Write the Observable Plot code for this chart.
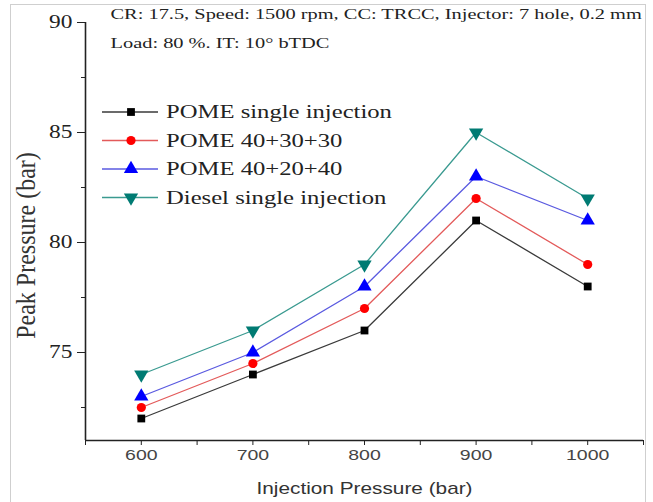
<!DOCTYPE html>
<html>
<head>
<meta charset="utf-8">
<script src="https://cdn.jsdelivr.net/npm/d3@7"></script>
<script src="https://cdn.jsdelivr.net/npm/@observablehq/plot@0.6"></script>
<style>
  html, body { margin: 0; padding: 0; background: #fff; }
  #wrap { position: relative; width: 653px; height: 502px; overflow: hidden; background: #fff; }
  #frame { position: absolute; left: 10px; top: 4px; width: 636px; height: 500px; border: 1.5px solid #cfcfcf; box-sizing: border-box; }
  #wrap svg { position: absolute; left: 0; top: 0; }
</style>
</head>
<body>
<div id="wrap"><div id="frame"></div></div>
<script>
// ---- data ----
const injectionPressure = [600, 700, 800, 900, 1000];
const pomeSingle = [72, 74, 76, 81, 78];
const pome403030 = [72.5, 74.5, 77, 82, 79];
const pome402040 = [73, 75, 78, 83, 81];
const dieselSingle = [74, 76, 79, 85, 82];
const seriesNames = ["POME single injection", "POME 40+30+30", "POME 40+20+40", "Diesel single injection"];
const seriesValues = [pomeSingle, pome403030, pome402040, dieselSingle];
const xTicks = [600, 700, 800, 900, 1000];
const xMinorTicks = [550, 650, 750, 850, 950, 1050];
const yTicks = [75, 80, 85, 90];
const yMinorTicks = [72.5, 77.5, 82.5, 87.5];
const xDomain = [550, 1050];
const yDomain = [71, 90];
const noteLines = ["CR: 17.5, Speed: 1500 rpm, CC: TRCC, Injector: 7 hole, 0.2 mm", "Load: 80 %. IT: 10\u00B0 bTDC"];
const xTitle = "Injection Pressure (bar)";
const yTitle = "Peak Pressure (bar)";

// ---- styles ----
const markerColors = ["#000000", "#ff0000", "#0000ff", "#007b73"];
const lineColors = ["#3a3a3a", "#e35a5a", "#5a5ae0", "#3a9a90"];
const triangleDown = {
  draw(context, size) {
    const y = -Math.sqrt(size / (Math.sqrt(3) * 3));
    context.moveTo(0, -y * 2);
    context.lineTo(-Math.sqrt(3) * y, y);
    context.lineTo(Math.sqrt(3) * y, y);
    context.closePath();
  }
};
const symbols = ["square", "circle", "triangle", triangleDown];
const radii = [4.4, 4.6, 5.3, 5.3];
const SERIF = "'Liberation Serif', 'Times New Roman', serif";
const SANS = "'Liberation Sans', Arial, sans-serif";
const STRETCH = 1.3;

const table = seriesNames.flatMap((name, s) =>
  injectionPressure.map((x, i) => ({series: name, s, x, y: seriesValues[s][i]})));

const marks = [
  Plot.axisX({ticks: xMinorTicks, tickSize: 5, tickFormat: () => "", label: null, stroke: "#222"}),
  Plot.axisX({ticks: xTicks, tickSize: 5, tickPadding: 4, tickFormat: d => String(d), label: null,
    stroke: "#222", fill: "#454545", fontSize: 15, fontFamily: SANS}),
  Plot.axisY({ticks: yMinorTicks, tickSize: 4, tickFormat: () => "", label: null, stroke: "#222"}),
  Plot.axisY({ticks: yTicks, tickSize: 8, tickPadding: 5, tickFormat: d => String(d), label: null,
    stroke: "#222", fill: "#222", fontSize: 18, fontFamily: SERIF}),
  Plot.ruleX([xDomain[0]], {stroke: "#222", strokeWidth: 1.6}),
  Plot.ruleY([yDomain[0]], {stroke: "#222", strokeWidth: 1.6}),
];
seriesNames.forEach((name, s) => {
  const d = table.filter(r => r.s === s);
  marks.push(Plot.line(d, {x: "x", y: "y", stroke: lineColors[s], strokeWidth: 1.3}));
});
seriesNames.forEach((name, s) => {
  const d = table.filter(r => r.s === s);
  marks.push(Plot.dot(d, {x: "x", y: "y", symbol: () => symbols[s], fill: markerColors[s], stroke: "none", r: radii[s]}));
});
marks.push(
  Plot.text([noteLines[0]], {frameAnchor: "top-left", dx: 25, dy: -8, lineAnchor: "middle", textAnchor: "start",
    fontSize: 15, fontFamily: SERIF, fill: "#222", className: "note"}),
  Plot.text([noteLines[1]], {frameAnchor: "top-left", dx: 25, dy: 21, lineAnchor: "middle", textAnchor: "start",
    fontSize: 15, fontFamily: SERIF, fill: "#222", className: "note"}),
  Plot.text([xTitle], {frameAnchor: "bottom", dy: 48, lineAnchor: "middle", textAnchor: "middle",
    fontSize: 16, fontFamily: SANS, fill: "#333"}),
  Plot.text([yTitle], {frameAnchor: "left", dx: -59, dy: 14, rotate: -90, lineAnchor: "middle", textAnchor: "middle",
    fontSize: 24, fontFamily: SERIF, fill: "#333", className: "ytitle"})
);

const chart = Plot.plot({
  width: 653, height: 502,
  marginLeft: 85, marginRight: 10, marginTop: 22, marginBottom: 62,
  x: {domain: xDomain},
  y: {domain: yDomain},
  style: {fontFamily: SERIF, background: "transparent", overflow: "visible"},
  marks
});
const wrap = document.getElementById("wrap");
wrap.appendChild(chart);

// ---- legend ----
const legendRowsY = [112, 140.5, 169, 197.5];
const lg = d3.select(wrap).append("svg").attr("width", 653).attr("height", 502)
  .style("position", "absolute").style("left", 0).style("top", 0);
seriesNames.forEach((name, s) => {
  const cy = legendRowsY[s];
  const g = lg.append("g");
  g.append("line").attr("x1", 102).attr("x2", 158).attr("y1", cy).attr("y2", cy)
    .attr("stroke", lineColors[s]).attr("stroke-width", 1.3);
  const symObj = typeof symbols[s] === "string"
    ? {square: d3.symbolSquare, circle: d3.symbolCircle, triangle: d3.symbolTriangle}[symbols[s]]
    : symbols[s];
  g.append("path").attr("d", d3.symbol(symObj, Math.PI * radii[s] * radii[s])())
    .attr("transform", `translate(131,${cy})`).attr("fill", markerColors[s]);
  g.append("text").attr("class", "legendtext").attr("transform", `translate(166,${cy})`).attr("dy", "0.35em")
    .attr("font-family", SERIF).attr("font-size", 18).attr("fill", "#222").text(name);
});

// horizontal stretch of lettering, as in the reference
function stretch(svg) {
  svg.querySelectorAll("text").forEach(t => {
    const tr = t.getAttribute("transform") || "";
    let s = STRETCH;
    if (t.closest(".note")) s = 1.36;
    else if (t.closest(".legendtext")) s = 1.37;
    else if (t.closest(".ytitle")) s = 1.15;
    t.setAttribute("transform", tr + (tr.includes("rotate(-90)") ? ` scale(1,${s})` : ` scale(${s},1)`));
  });
}
stretch(chart);
stretch(lg.node());
</script>
</body>
</html>
